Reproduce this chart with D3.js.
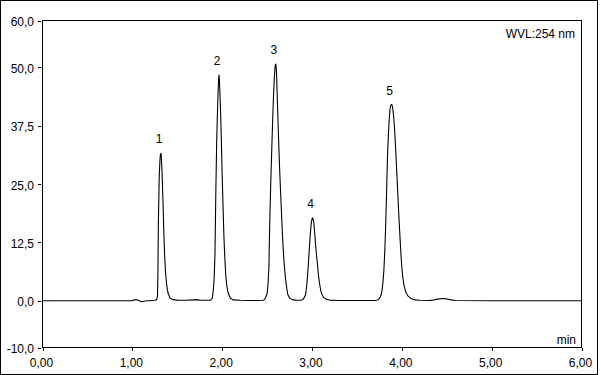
<!DOCTYPE html>
<html><head><meta charset="utf-8">
<script src="https://cdn.jsdelivr.net/npm/d3@7"></script>
<style>
html,body{margin:0;padding:0;background:#fff;}
svg{display:block;}
text{font-family:"Liberation Sans",Arial,sans-serif;font-size:12px;fill:#000;}
</style></head>
<body>
<svg id="chart" width="601" height="375"></svg>
<script>
// Retention time (min) and detector signal (mAU)
const time = [0.00,0.50,1.00,1.02,1.05,1.08,1.10,1.13,1.16,1.20,1.25,1.27,1.28,1.285,1.29,1.30,1.31,1.32,1.33,1.34,1.35,1.36,1.37,1.38,1.39,1.40,1.42,1.45,1.50,1.60,1.68,1.71,1.75,1.85,
  1.87,1.89,1.90,1.91,1.92,1.93,1.94,1.95,1.96,1.965,1.97,1.98,1.99,2.00,2.01,2.02,2.03,2.04,2.05,2.06,2.07,2.09,2.12,2.20,2.30,2.40,
  2.46,2.48,2.50,2.51,2.52,2.53,2.54,2.55,2.56,2.57,2.58,2.59,2.597,2.605,2.61,2.62,2.63,2.64,2.65,2.66,2.67,2.68,2.69,2.70,2.71,2.72,2.73,2.75,2.78,2.82,2.86,
  2.88,2.90,2.92,2.93,2.94,2.95,2.96,2.97,2.98,2.99,3.00,3.008,3.02,3.03,3.04,3.05,3.06,3.07,3.08,3.09,3.10,3.11,3.13,3.16,3.20,3.30,3.50,3.70,
  3.72,3.74,3.76,3.77,3.78,3.79,3.80,3.81,3.82,3.83,3.84,3.85,3.86,3.87,3.88,3.89,3.90,3.91,3.92,3.93,3.94,3.95,3.96,3.97,3.98,3.99,4.00,4.01,4.02,4.03,4.04,4.05,4.07,4.10,4.15,4.20,
  4.30,4.35,4.40,4.45,4.50,4.55,4.60,5.00,6.00];
const signal = [0,0,0,0.2,0.2,0.0,-0.2,-0.1,0,0,0.1,0.2,1.0,6,17,27,31,31.6,28,22,15,9.5,6,3.8,2.4,1.5,0.6,0.25,0.15,0.1,0.2,0.25,0.15,0.1,
  0.15,0.5,2.0,4.5,10,24,35,42,47.5,48.3,47,42,35,27,20,13.5,9,5.5,3.5,2.2,1.5,0.6,0.2,0.1,0.05,0.05,
  0.1,0.5,1.5,3.5,7,17,24.5,31,37.5,43,47.5,50.3,50.7,49,45.5,39.5,33.5,28,23.5,19,14.5,11,8,5.8,4,2.6,1.4,0.6,0.25,0.15,0.1,
  0.1,0.3,0.9,1.5,3,5.2,8,11,14,16.3,17.5,17.8,16.8,14.5,12,9.8,8,5.8,4.2,3,2,1.4,0.7,0.3,0.15,0.05,0.05,0.05,
  0.1,0.3,0.8,1.3,2.3,4,6.5,10.5,16,23,30.5,35.5,39,41.3,42,42,41,39.3,36.5,33,29,25,21,17,13.5,10,7.2,5.2,3.8,2.8,2.1,1.6,1.0,0.5,0.2,0.1,
  0.05,0.15,0.35,0.5,0.4,0.2,0.05,0,0];

// Peak labels
const peakNames = ["1","2","3","4","5"];
const peakTimes = [1.32,1.965,2.597,3.008,3.885];
const peakHeights = [31.6,48.3,50.7,17.8,42.0];

// Axis ticks
const yTicks = [-10,0,12.5,25,37.5,50,60];
const yTickLabels = ["-10,0","0,0","12,5","25,0","37,5","50,0","60,0"];
const xTicks = [0,1,2,3,4,5,6];
const xTickLabels = ["0,00","1,00","2,00","3,00","4,00","5,00","6,00"];
const wavelengthLabel = "WVL:254 nm";
const xUnit = "min";

const svg = d3.select("#chart");
const x = d3.scaleLinear().domain([0,6]).range([42.5,581.5]);
const y = d3.scaleLinear().domain([-10,60]).range([347.5,20.5]);

// outer frame
svg.append("rect").attr("x",0.5).attr("y",0.5).attr("width",597).attr("height",374)
  .attr("fill","none").attr("stroke","#000").attr("shape-rendering","crispEdges");

// plot box
svg.append("rect").attr("x",x(0)).attr("y",y(60)).attr("width",x(6)-x(0)).attr("height",y(-10)-y(60))
  .attr("fill","none").attr("stroke","#000").attr("shape-rendering","crispEdges");

// y axis
const yAxis = d3.axisLeft(y).tickValues(yTicks).tickSize(0)
  .tickFormat((d,i)=>yTickLabels[i]);
const gy = svg.append("g").attr("transform",`translate(${x(0)},0)`).call(yAxis);
gy.select(".domain").remove();
gy.selectAll(".tick text").attr("font-family",null).attr("font-size",null)
  .attr("x",-8.5).attr("dy",null).attr("y",5);
gy.selectAll(".tick").append("line").attr("x1",-5).attr("x2",-2).attr("y1",0).attr("y2",0)
  .attr("stroke","#000").attr("shape-rendering","crispEdges");

// x axis
const xAxis = d3.axisBottom(x).tickValues(xTicks).tickSize(3).tickPadding(0)
  .tickFormat((d,i)=>xTickLabels[i]);
const gx = svg.append("g").attr("transform",`translate(0,${y(-10)})`).call(xAxis);
gx.select(".domain").remove();
gx.selectAll(".tick line").attr("shape-rendering","crispEdges");
gx.selectAll(".tick text").attr("font-family",null).attr("font-size",null)
  .attr("dy",null).attr("y",19.5).attr("x",-1.5);

// trace
const pts = time.map((t,i)=>[t,signal[i]]);
const line = d3.line().x(d=>x(d[0])).y(d=>y(d[1]));
svg.append("path").datum(pts).attr("d",line).attr("fill","none")
  .attr("stroke","#000").attr("stroke-width",1.1).attr("stroke-linejoin","round");

// peak labels
svg.selectAll("text.peak").data(peakNames).join("text").attr("class","peak")
  .attr("x",(d,i)=>x(peakTimes[i])-2).attr("y",(d,i)=>y(peakHeights[i])-10)
  .attr("text-anchor","middle").text(d=>d);

// annotations
svg.append("text").attr("x",575).attr("y",38).attr("text-anchor","end").text(wavelengthLabel);
svg.append("text").attr("x",576).attr("y",344).attr("text-anchor","end").text(xUnit);
</script>
</body></html>
